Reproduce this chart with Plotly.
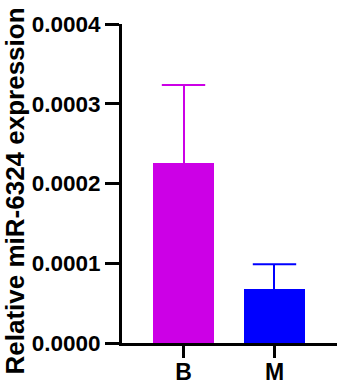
import plotly.graph_objects as go

categories = ["B", "M"]
means = [0.0002257, 0.0000683]
sd_upper = [0.0000978, 0.0000304]
bar_colors = ["#CC00E6", "#0000FF"]
y_tick_vals = [0.0, 0.0001, 0.0002, 0.0003, 0.0004]
y_tick_text = ["0.0000", "0.0001", "0.0002", "0.0003", "0.0004"]
y_title = "Relative miR-6324 expression"

FONT = "Liberation Sans, Arial, Helvetica, sans-serif"

fig = go.Figure()
for i, (c, m, e, col) in enumerate(zip(categories, means, sd_upper, bar_colors)):
    fig.add_trace(go.Bar(
        x=[i], y=[m], width=0.67,
        marker=dict(color=col, line=dict(width=0)),
        error_y=dict(type="data", symmetric=False, array=[e], arrayminus=[0],
                     color=col, thickness=2, width=0),
        showlegend=False, hoverinfo="skip",
    ))
    # cap at the top of the error bar
    fig.add_trace(go.Scatter(
        x=[i], y=[m + e], mode="markers",
        marker=dict(symbol="line-ew-open", size=31, color=col,
                    line=dict(color=col, width=2)),
        showlegend=False, hoverinfo="skip",
    ))

fig.update_layout(
    width=339, height=384,
    margin=dict(l=122, r=2, t=24, b=41, autoexpand=False),
    paper_bgcolor="white", plot_bgcolor="white",
    bargap=0,
    font=dict(family=FONT, color="black"),
)
fig.update_xaxes(
    range=[-0.676, 1.687], automargin=False,
    tickmode="array", tickvals=list(range(len(categories))), ticktext=categories,
    showline=True, linecolor="black", linewidth=3,
    ticks="outside", ticklen=12, tickwidth=3, tickcolor="black",
    ticklabelstandoff=-6,
    tickfont=dict(family=FONT, size=23, weight="bold", color="black"),
    showgrid=False, zeroline=False,
)
fig.update_yaxes(
    range=[0, 0.0004], automargin=False,
    tickmode="array", tickvals=y_tick_vals, ticktext=y_tick_text,
    showline=True, linecolor="black", linewidth=3,
    ticks="outside", ticklen=14, tickwidth=3, tickcolor="black",
    tickfont=dict(family=FONT, size=22.5, weight="bold", color="black"),
    showgrid=False, zeroline=False,
)
fig.add_annotation(
    text=y_title, textangle=-90,
    xref="paper", yref="paper", x=-0.4977, y=0.478,
    xanchor="center", yanchor="middle", showarrow=False,
    font=dict(family=FONT, size=26, weight="bold", color="black"),
)
fig.write_html("out.html", config={"displayModeBar": False},
               post_script="document.body.style.margin='0px';")
